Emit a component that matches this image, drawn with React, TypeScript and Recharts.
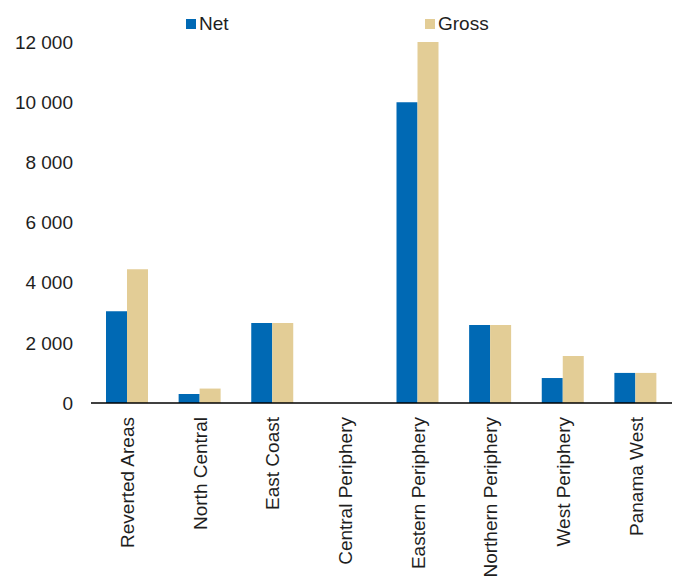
import { BarChart, Bar, XAxis, YAxis, Legend } from "recharts";

// values
const regions = [
  "Reverted Areas",
  "North Central",
  "East Coast",
  "Central Periphery",
  "Eastern Periphery",
  "Northern Periphery",
  "West Periphery",
  "Panama West",
];
const netValues = [3050, 300, 2660, 0, 10000, 2590, 830, 1000];
const grossValues = [4450, 480, 2660, 0, 12000, 2590, 1560, 1000];
const yTicks = [0, 2000, 4000, 6000, 8000, 10000, 12000];

const NET_COLOR = "#0069B4";
const GROSS_COLOR = "#E3CD96";
const FONT = "'Liberation Sans', Arial, Helvetica, sans-serif";
const TEXT_COLOR = "#1e1e1e";

const data = regions.map((region, i) => ({
  region,
  net: netValues[i],
  gross: grossValues[i],
}));

const fmtThousands = (v: number) =>
  String(v).replace(/\B(?=(\d{3})+(?!\d))/g, " ");

function XTick(props: any) {
  const { x, y, payload } = props;
  return (
    <g transform={`translate(${x},${y})`}>
      <text
        transform="rotate(-90)"
        x={-14}
        y={0}
        dy="0.36em"
        textAnchor="end"
        fontSize={19}
        fontFamily={FONT}
        fill={TEXT_COLOR}
      >
        {payload.value}
      </text>
    </g>
  );
}

function renderLegend() {
  const items = [
    { label: "Net", color: NET_COLOR, left: 186 },
    { label: "Gross", color: GROSS_COLOR, left: 425 },
  ];
  return (
    <div style={{ position: "relative", height: 24, width: 676 }}>
      {items.map((it) => (
        <div
          key={it.label}
          style={{
            position: "absolute",
            left: it.left,
            top: 0,
            display: "flex",
            alignItems: "center",
            fontFamily: FONT,
            fontSize: 19,
            color: TEXT_COLOR,
            lineHeight: "24px",
          }}
        >
          <span
            style={{
              display: "inline-block",
              width: 10,
              height: 10,
              background: it.color,
              marginRight: 3,
            }}
          />
          {it.label}
        </div>
      ))}
    </div>
  );
}

export default function App() {
  return (
    <div style={{ width: 676, height: 579, background: "#fff" }}>
      <style>{`body{margin:0}`}</style>
      <BarChart
        width={676}
        height={579}
        data={data}
        margin={{ top: 42, right: 4, bottom: 0, left: 0 }}
        barGap={0}
      >
        <Legend
          content={renderLegend}
          layout="horizontal"
          verticalAlign="middle"
          align="center"
          wrapperStyle={{ top: 12, left: 0, width: 676 }}
        />
        <XAxis
          dataKey="region"
          height={176}
          interval={0}
          tickLine={false}
          tickSize={0}
          tickMargin={0}
          axisLine={{ stroke: "#000", strokeWidth: 1.6 }}
          tick={<XTick />}
        />
        <YAxis
          width={91}
          domain={[0, 12000]}
          ticks={yTicks}
          interval={0}
          axisLine={false}
          tickLine={false}
          tickSize={0}
          tickMargin={18}
          tickFormatter={fmtThousands}
          tick={{ fontSize: 19, fontFamily: FONT, fill: TEXT_COLOR }}
        />
        <Bar
          dataKey="net"
          name="Net"
          fill={NET_COLOR}
          barSize={21}
          isAnimationActive={false}
        />
        <Bar
          dataKey="gross"
          name="Gross"
          fill={GROSS_COLOR}
          barSize={21}
          isAnimationActive={false}
        />
      </BarChart>
    </div>
  );
}
